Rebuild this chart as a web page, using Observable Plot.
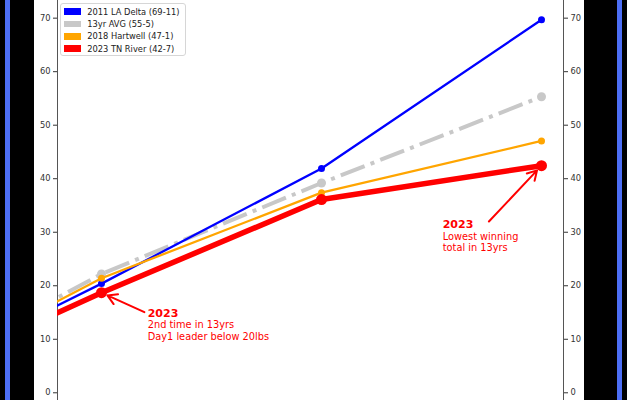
<!DOCTYPE html>
<html>
<head>
<meta charset="utf-8">
<script src="https://cdn.jsdelivr.net/npm/d3@7"></script>
<script src="https://cdn.jsdelivr.net/npm/@observablehq/plot@0.6"></script>
<style>
  html, body { margin: 0; padding: 0; background: #000; }
  #fig { position: relative; width: 627px; height: 400px; background: #000; overflow: hidden; font-family: "DejaVu Sans", sans-serif; }
  .stripe { position: absolute; top: 0; width: 5px; height: 400px; background: #4d6ff5; }
  #chart { position: absolute; left: 34px; top: 0; width: 550px; height: 400px; background: #fff; }
  #chart svg { display: block; }
  #legend { position: absolute; left: 26px; top: 3px; width: 121px; height: 49px; border: 1px solid #d6d6d6; border-radius: 3px; background: rgba(255,255,255,0.85); padding: 1.5px 0 0 2.5px; box-sizing: content-box; }
  #legend .row { display: flex; align-items: center; height: 12.3px; font-size: 8.3px; color: #222; white-space: nowrap; }
  #legend .swatch { width: 17.7px; height: 6.7px; margin-right: 6px; flex: none; }
</style>
</head>
<body>
<div id="fig">
  <div class="stripe" style="left:5px"></div>
  <div class="stripe" style="left:617px"></div>
  <div id="chart"><div id="legend"></div></div>
</div>
<script>
// Cumulative weight (lbs) after each tournament day; day 0 starts from zero
const days = [0, 1, 2, 3];
const seriesNames = ["2011 LA Delta (69-11)", "13yr AVG (55-5)", "2018 Hartwell (47-1)", "2023 TN River (42-7)"];
const laDelta2011 = [0, 20.4, 41.9, 69.69];
const avg13yr = [0, 22.2, 39.2, 55.31];
const hartwell2018 = [0, 21.4, 37.4, 47.06];
const tnRiver2023 = [0, 18.7, 36.1, 42.44];
const yTicks = [0, 10, 20, 30, 40, 50, 60, 70];

// Callouts: day index of the highlighted point, text anchor and arrow tail (data units)
const noteTitles = ["2023", "2023"];
const noteBodies = ["2nd time in 13yrs\nDay1 leader below 20lbs", "Lowest winning\ntotal in 13yrs"];
const noteDays = [1, 3];
const noteTextX = [1.21, 2.551];
const noteTextY = [14.9, 31.5];
const noteTailX = [1.195, 2.761];
const noteTailY = [15.07, 32.0];

// Line styling per series
const styles = [
  {color: "#0000ff", width: 2.3, r: 3.5, dash: null},
  {color: "#c8c8c8", width: 4, r: 4.5, dash: "25.6,6.4,4,6.4"},
  {color: "#ffa500", width: 2.3, r: 3.5, dash: null},
  {color: "#ff0000", width: 5.5, r: 5.5, dash: null}
];
// The dashed average sits beneath the event lines
const drawOrder = [1, 0, 2, 3];

const seriesValues = [laDelta2011, avg13yr, hartwell2018, tnRiver2023];
const rows = seriesValues.map((vals, i) => days.map((d, j) => ({series: seriesNames[i], day: d, value: vals[j]})));

const notes = noteTitles.map((t, i) => ({
  title: t, body: noteBodies[i], x: noteTextX[i], y: noteTextY[i],
  tx: noteTailX[i], ty: noteTailY[i], px: noteDays[i], py: tnRiver2023[days.indexOf(noteDays[i])]
}));

const xDomain = [0.8, 3.1];

const marks = [];
drawOrder.forEach(i => {
  const data = rows[i];
  const s = styles[i];
  marks.push(Plot.line(data, {x: "day", y: "value", stroke: s.color, strokeWidth: s.width,
    strokeDasharray: s.dash, strokeLinecap: "butt", clip: true}));
  marks.push(Plot.dot(data.filter(d => d.day > 0), {x: "day", y: "value", r: s.r, fill: s.color, stroke: "none", clip: true}));
});

const chart = Plot.plot({
  width: 550,
  height: 400,
  marginLeft: 23,
  marginRight: 21,
  marginTop: 0,
  marginBottom: 0,
  style: {fontFamily: "DejaVu Sans", background: "white", overflow: "visible"},
  x: {domain: xDomain, axis: null},
  y: {domain: [-1.44, 73.3], axis: null},
  marks: [
    Plot.ruleX(xDomain, {stroke: "#555", strokeWidth: 1}),
    Plot.axisY({anchor: "left", ticks: yTicks, tickSize: 4, tickPadding: 3, fontSize: 8.3, color: "#333", label: null}),
    Plot.axisY({anchor: "right", ticks: yTicks, tickSize: 4, tickPadding: 3, fontSize: 8.3, color: "#333", label: null}),
    ...marks,
    Plot.arrow(notes, {x1: "tx", y1: "ty", x2: "px", y2: "py", stroke: "#ff0000", strokeWidth: 2, headLength: 8, insetEnd: 6.5, bend: 0}),
    Plot.text(notes, {x: "x", y: "y", text: "title", fill: "#ff0000", fontWeight: "bold", fontSize: 11, textAnchor: "start"}),
    Plot.text(notes, {x: "x", y: "y", text: "body", fill: "#ff0000", fontSize: 9.8, textAnchor: "start", lineAnchor: "top", lineHeight: 1.2, dy: 7})
  ]
});

document.getElementById("chart").prepend(chart);

// Legend
const legend = document.getElementById("legend");
seriesNames.forEach((name, i) => {
  const row = document.createElement("div");
  row.className = "row";
  const sw = document.createElement("span");
  sw.className = "swatch";
  sw.style.background = styles[i].color;
  const label = document.createElement("span");
  label.textContent = name;
  row.append(sw, label);
  legend.append(row);
});
</script>
</body>
</html>
